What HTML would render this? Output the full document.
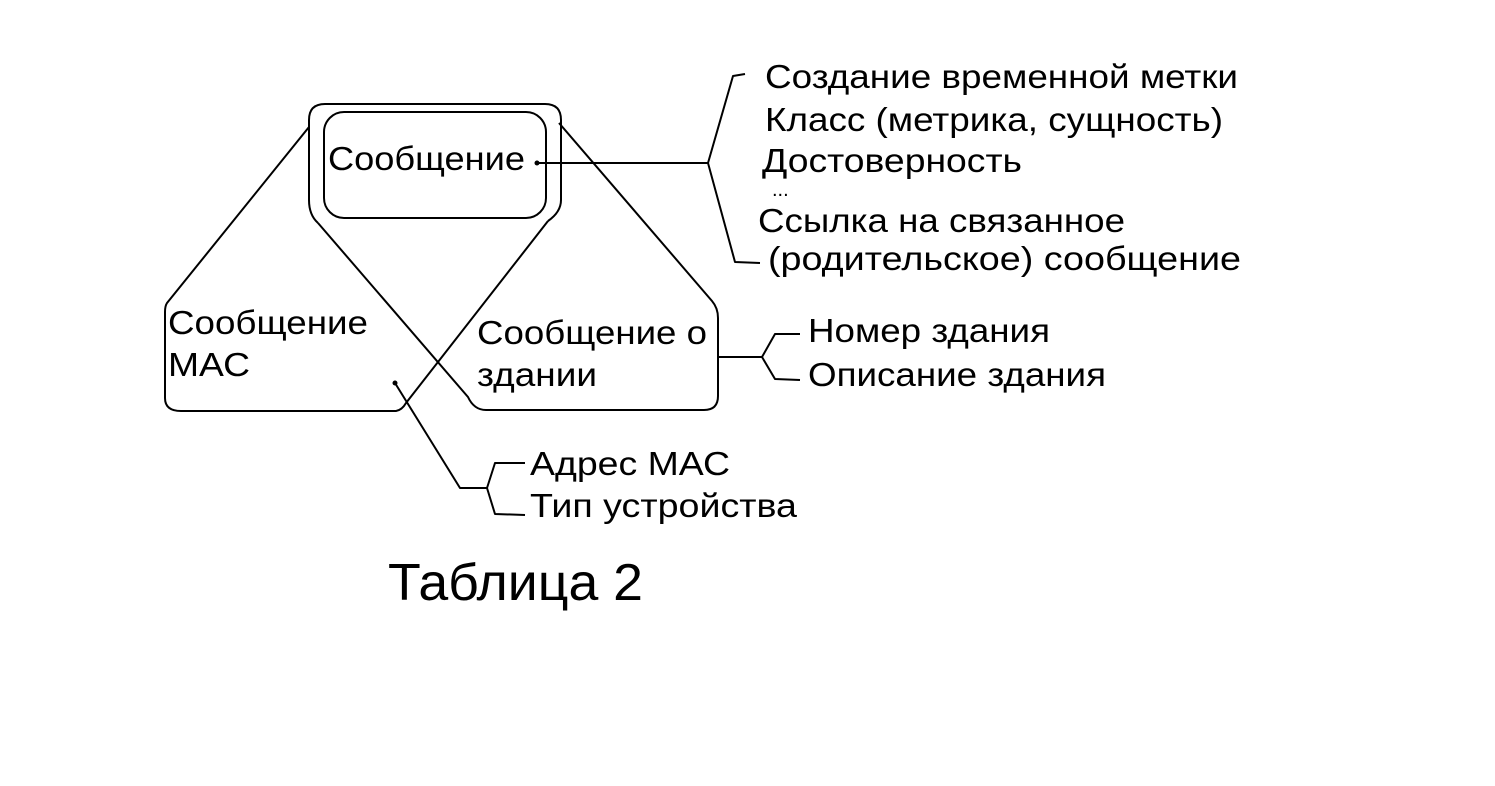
<!DOCTYPE html>
<html><head><meta charset="utf-8"><style>
html,body{margin:0;padding:0;background:#fff;}
svg text{font-family:"Liberation Sans",sans-serif;fill:#000;}
</style></head><body>
<svg width="1495" height="781" viewBox="0 0 1495 781" xmlns="http://www.w3.org/2000/svg">
<g fill="none" stroke="#000" stroke-width="2" stroke-linejoin="round">
<path d="M318,223 Q309,215 309,200 L309,120 Q309,104 325,104 L545,104 Q561,104 561,120 L561,200 Q561,212 548,221"/>
<rect x="324" y="112" width="222" height="106" rx="20"/>
<path d="M309,127 L167,303 Q165,306 165,312 L165,398 Q165,411 181,411 L396,411 Q402,410 406,403 L548,221"/>
<path d="M318,223 L468,397 Q474,410 486,410 L704,410 Q718,410 718,396 L718,318 Q718,308 712,301 L559,123"/>
<path d="M537,163 L708,163 L733,76 L745,74 M708,163 L735,262 L760,263"/>
<path d="M718,357 L762,357 L775,334 L800,334 M762,357 L775,379 L800,380"/>
<path d="M395,383 L460,488 L487,488 L495,463 L525,463 M487,488 L495,514 L525,515"/>
</g>
<circle cx="537" cy="163" r="2.5" fill="#000"/>
<circle cx="395" cy="383" r="2.5" fill="#000"/>
<g font-size="33" lengthAdjust="spacingAndGlyphs">
<text x="328" y="170" textLength="197" lengthAdjust="spacingAndGlyphs">Сообщение</text>
<text x="168" y="334" textLength="200" lengthAdjust="spacingAndGlyphs">Сообщение</text>
<text x="168" y="376" textLength="82" lengthAdjust="spacingAndGlyphs">МАС</text>
<text x="477" y="344" textLength="230" lengthAdjust="spacingAndGlyphs">Сообщение о</text>
<text x="477" y="386" textLength="120" lengthAdjust="spacingAndGlyphs">здании</text>
<text x="765" y="88" textLength="473" lengthAdjust="spacingAndGlyphs">Создание временной метки</text>
<text x="765" y="131" textLength="458" lengthAdjust="spacingAndGlyphs">Класс (метрика, сущность)</text>
<text x="762" y="172" textLength="260" lengthAdjust="spacingAndGlyphs">Достоверность</text>
<text x="772" y="196" font-size="20">...</text>
<text x="758" y="232" textLength="367" lengthAdjust="spacingAndGlyphs">Ссылка на связанное</text>
<text x="768" y="270" textLength="473" lengthAdjust="spacingAndGlyphs">(родительское) сообщение</text>
<text x="808" y="342" textLength="242" lengthAdjust="spacingAndGlyphs">Номер здания</text>
<text x="808" y="386" textLength="298" lengthAdjust="spacingAndGlyphs">Описание здания</text>
<text x="530" y="475" textLength="200" lengthAdjust="spacingAndGlyphs">Адрес МАС</text>
<text x="530" y="517" textLength="267" lengthAdjust="spacingAndGlyphs">Тип устройства</text>
</g>
<text x="388" y="600" font-size="52" textLength="255" lengthAdjust="spacingAndGlyphs">Таблица 2</text>
</svg>
</body></html>
